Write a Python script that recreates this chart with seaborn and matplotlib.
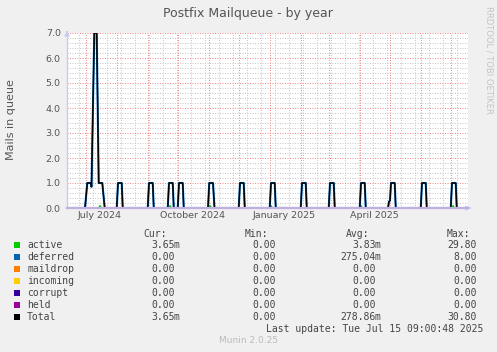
import pandas as pd
import matplotlib
matplotlib.use("Agg")
import matplotlib.pyplot as plt
from matplotlib.patches import Rectangle
import seaborn as sns

# ---- data ----
total_time = [
    "2024-06-12 00:00", "2024-06-30 00:00", "2024-07-02 07:00", "2024-07-05 17:00",
    "2024-07-06 12:00", "2024-07-09 07:00", "2024-07-11 17:00", "2024-07-13 17:00",
    "2024-07-17 07:00", "2024-07-19 17:00",
    "2024-07-31 18:00", "2024-08-02 00:00", "2024-08-05 18:00", "2024-08-06 18:00",
    "2024-08-31 18:00", "2024-09-02 00:00", "2024-09-05 18:00", "2024-09-06 18:00",
    "2024-09-20 18:00", "2024-09-22 00:00", "2024-09-25 18:00", "2024-09-26 18:00",
    "2024-09-30 18:00", "2024-10-02 00:00", "2024-10-05 18:00", "2024-10-06 18:00",
    "2024-10-31 00:00", "2024-11-01 06:00", "2024-11-05 00:00", "2024-11-06 12:00",
    "2024-11-30 18:00", "2024-12-02 00:00", "2024-12-05 18:00", "2024-12-06 18:00",
    "2024-12-31 18:00", "2025-01-02 00:00", "2025-01-05 18:00", "2025-01-06 18:00",
    "2025-01-31 18:00", "2025-02-02 00:00", "2025-02-05 18:00", "2025-02-06 18:00",
    "2025-02-28 18:00", "2025-03-02 00:00", "2025-03-05 18:00", "2025-03-06 18:00",
    "2025-03-31 18:00", "2025-04-02 00:00", "2025-04-05 18:00", "2025-04-06 18:00",
    "2025-04-29 00:00", "2025-04-30 00:00", "2025-05-01 00:00", "2025-05-02 00:00",
    "2025-05-05 18:00", "2025-05-06 18:00",
    "2025-05-31 18:00", "2025-06-02 00:00", "2025-06-05 18:00", "2025-06-06 18:00",
    "2025-06-30 18:00", "2025-07-02 00:00", "2025-07-05 18:00", "2025-07-06 18:00",
    "2025-07-15 09:00",
]
total_value = [
    0, 0, 1.0, 1.0,
    0.85, 7.0, 7.0, 1.0,
    1.0, 0,
    0, 1, 1, 0,
    0, 1, 1, 0,
    0, 1, 1, 0,
    0, 1, 1, 0,
    0, 1, 1, 0,
    0, 1, 1, 0,
    0, 1, 1, 0,
    0, 1, 1, 0,
    0, 1, 1, 0,
    0, 1, 1, 0,
    0, 0.25, 0.3, 1,
    1, 0,
    0, 1, 1, 0,
    0, 1, 1, 0,
    0,
]
deferred_time = total_time
deferred_value = total_value

active_time = [
    "2024-06-12", "2024-07-14", "2024-07-15", "2024-07-16",
    "2024-09-22", "2024-09-23", "2024-09-24",
    "2024-11-01", "2024-11-02", "2024-11-03",
    "2025-01-01", "2025-01-02", "2025-01-03",
    "2025-04-01", "2025-04-02", "2025-04-03",
    "2025-07-02", "2025-07-03", "2025-07-04", "2025-07-15",
]
active_value = [0, 0, 0.08, 0, 0, 0.08, 0, 0, 0.08, 0, 0, 0.08, 0, 0, 0.08, 0, 0, 0.08, 0, 0]

legend_names = ["active", "deferred", "maildrop", "incoming", "corrupt", "held", "Total"]
legend_colors = ["#00cc00", "#0066b3", "#ff8000", "#ffcc00", "#330099", "#990099", "#000000"]
cur_vals = ["3.65m", "0.00", "0.00", "0.00", "0.00", "0.00", "3.65m"]
min_vals = ["0.00", "0.00", "0.00", "0.00", "0.00", "0.00", "0.00"]
avg_vals = ["3.83m", "275.04m", "0.00", "0.00", "0.00", "0.00", "278.86m"]
max_vals = ["29.80", "8.00", "0.00", "0.00", "0.00", "0.00", "30.80"]

x_labels = ["July 2024", "October 2024", "January 2025", "April 2025"]
x_label_pos = ["2024-07-15", "2024-10-15", "2025-01-15", "2025-04-15"]

# ---- figure ----
sns.set_theme(style="white")
plt.rcParams["font.family"] = ["DejaVu Sans"]

W, H = 497, 352
fig = plt.figure(figsize=(W / 100, H / 100), dpi=100, facecolor="#f0f0f0")
x0, x1, y0, y1 = 67, 468, 33, 208
ax = fig.add_axes([x0 / W, 1 - y1 / H, (x1 - x0) / W, (y1 - y0) / H])
ax.set_facecolor("white")

start = pd.Timestamp("2024-06-12")
end = pd.Timestamp("2025-07-18")

# dotted grid like rrdtool
grid_kw = dict(lw=0.72, ls=(0, (1, 1.5)))
for d in pd.date_range("2024-06-24", "2025-07-18", freq="14D"):
    ax.axvline(d, color="#c8c8c8", zorder=0, **grid_kw)
for v in [i / 5 for i in range(1, 35) if i % 5]:
    ax.axhline(v, color="#c8c8c8", zorder=0, **grid_kw)
for d in pd.date_range("2024-07-01", "2025-07-01", freq="MS"):
    ax.axvline(d, color="#f08c8c", zorder=0.5, **grid_kw)
for v in range(1, 8):
    ax.axhline(v, color="#f08c8c", zorder=0.5, **grid_kw)

tot = pd.DataFrame({"time": pd.to_datetime(total_time), "value": total_value})
dfr = pd.DataFrame({"time": pd.to_datetime(deferred_time), "value": deferred_value})
act = pd.DataFrame({"time": pd.to_datetime(active_time), "value": active_value})

sns.lineplot(data=act, x="time", y="value", ax=ax, color="#00cc00", lw=1.4, estimator=None, zorder=2)
sns.lineplot(data=dfr, x="time", y="value", ax=ax, color="#0066b3", lw=1.5, estimator=None, zorder=3)
sns.lineplot(data=tot, x="time", y="value", ax=ax, color="#000000", lw=1.0, estimator=None, zorder=4)

ax.set_xlim(start, end)
ax.set_ylim(0, 7.0)
ax.set_xlabel("")
ax.set_ylabel("")

ax.set_yticks(range(0, 8))
ax.set_yticklabels([f"{v:.1f}" for v in range(0, 8)])
ax.set_xticks(pd.to_datetime(x_label_pos))
ax.set_xticklabels(x_labels)
ax.tick_params(axis="both", length=0, labelsize=6.8, colors="#555555")
ax.tick_params(axis="y", pad=4.5)
ax.tick_params(axis="x", pad=2)

for s in ["top", "right"]:
    ax.spines[s].set_visible(False)
ax.spines["left"].set_color("#c8ccf4")
ax.spines["left"].set_linewidth(1.0)
ax.spines["bottom"].set_color("#c0b0e0")
ax.spines["bottom"].set_linewidth(1.6)
ax.spines["bottom"].set_zorder(6)

# axis arrows
ax.annotate("", xy=(0, 1.03), xytext=(0, 0.99), xycoords="axes fraction",
            arrowprops=dict(arrowstyle="-|>", color="#c8ccf4", lw=1, mutation_scale=7),
            annotation_clip=False)
ax.annotate("", xy=(1.015, 0), xytext=(0.995, 0), xycoords="axes fraction",
            arrowprops=dict(arrowstyle="-|>", color="#c8ccf4", lw=1, mutation_scale=7),
            annotation_clip=False)

# titles
fig.text(248 / W, 1 - 13 / H, "Postfix Mailqueue - by year", ha="center", va="center",
         fontsize=9, color="#555555")
fig.text(11 / W, 1 - 120 / H, "Mails in queue", ha="center", va="center",
         rotation=90, fontsize=8, color="#555555")
fig.text(489 / W, 1 - 6 / H, "RRDTOOL / TOBI OETIKER", ha="center", va="top",
         rotation=270, fontsize=6, color="#c4c4c4")

# legend block
mono = "DejaVu Sans Mono"
fs = 7
tc = "#444444"


def put(x, y, s, ha="left", color=tc):
    fig.text(x / W, 1 - y / H, s, ha=ha, va="center", fontsize=fs, family=mono, color=color)


for hx, hs in [(167, "Cur:"), (268, "Min:"), (369, "Avg:"), (470, "Max:")]:
    put(hx, 234, hs, ha="right")

row_y = [245.3, 257.3, 269.3, 281.3, 293.3, 305.3, 317.3]
for i, name in enumerate(legend_names):
    y = row_y[i]
    fig.add_artist(Rectangle((14 / W, 1 - (y + 3) / H), 6 / W, 6 / H,
                             transform=fig.transFigure, color=legend_colors[i], lw=0))
    put(27, y, name)
    for xe, vals in [(175, cur_vals), (276, min_vals), (376, avg_vals), (477, max_vals)]:
        s = vals[i]
        if s.endswith("m"):
            put(xe, y, s[:-1], ha="right")
            put(xe - 1.5, y, "m")
        else:
            put(xe, y, s, ha="right")

put(483, 329.3, "Last update: Tue Jul 15 09:00:48 2025", ha="right")
fig.text(249 / W, 1 - 340.7 / H, "Munin 2.0.25", ha="center", va="center",
         fontsize=6.5, color="#bbbbbb")

fig.savefig("out.png", dpi=100, facecolor=fig.get_facecolor())
